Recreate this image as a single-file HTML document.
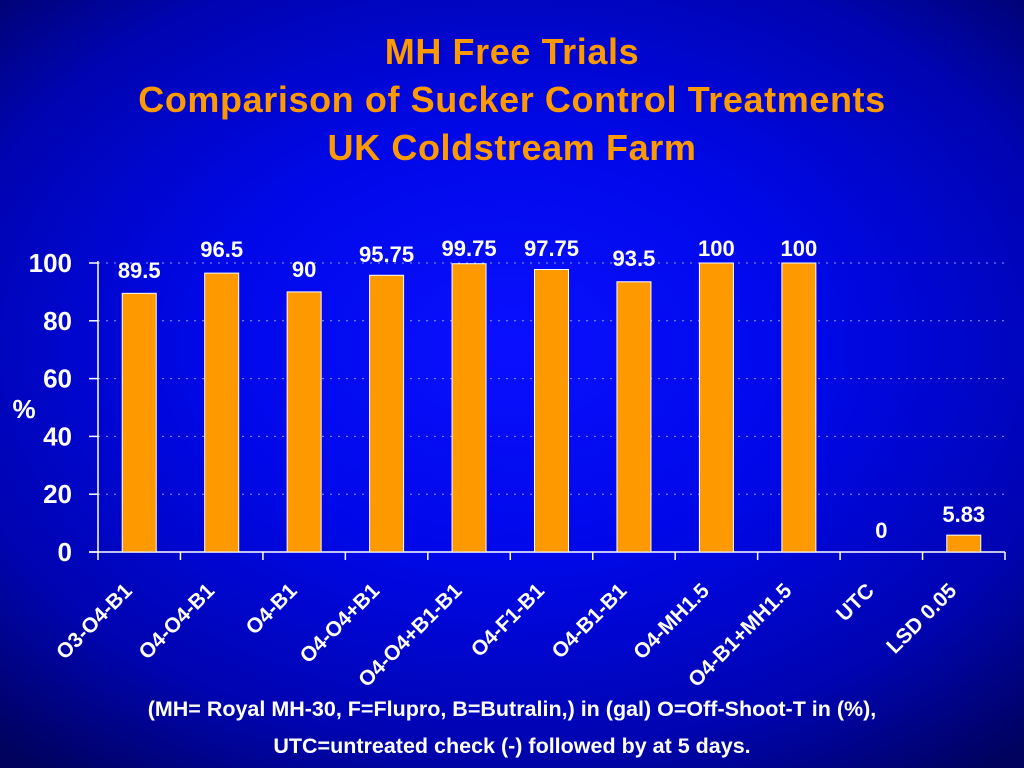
<!DOCTYPE html>
<html><head><meta charset="utf-8"><style>
html,body{margin:0;padding:0;width:1024px;height:768px;overflow:hidden}
body{background:radial-gradient(ellipse 75% 70% at 50% 45%,#0a10ff 0%,#0008e8 40%,#0004b0 75%,#00025e 100%);font-family:"Liberation Sans",Arial,sans-serif;font-weight:bold}
.t{position:absolute;left:0;width:1024px;text-align:center;color:#ff9900;font-size:36px;line-height:48px;letter-spacing:0.6px}
.f{position:absolute;left:0;width:1024px;text-align:center;color:#fff;font-size:21.5px}
</style></head><body>
<div class="t" style="top:28px">MH Free Trials<br>Comparison of Sucker Control Treatments<br>UK Coldstream Farm</div>
<svg id="c" width="1024" height="768" style="position:absolute;left:0;top:0"></svg>
<div class="f" style="top:697px">(MH= Royal MH-30, F=Flupro, B=Butralin,) in (gal) O=Off-Shoot-T in (%),</div>
<div class="f" style="top:734px">UTC=untreated check (-) followed by at 5 days.</div>
<script>
const categories=["O3-O4-B1","O4-O4-B1","O4-B1","O4-O4+B1","O4-O4+B1-B1","O4-F1-B1","O4-B1-B1","O4-MH1.5","O4-B1+MH1.5","UTC","LSD 0.05"];
const values=[89.5,96.5,90,95.75,99.75,97.75,93.5,100,100,0,5.83];
const valueLabels=["89.5","96.5","90","95.75","99.75","97.75","93.5","100","100","0","5.83"];
const yTicks=[0,20,40,60,80,100];
const svg=document.getElementById('c');const NS="http://www.w3.org/2000/svg";
const x0=98,x1=1005,y0=552,y100=263;
const bw=(x1-x0)/categories.length;
const Y=v=>y0-(v/100)*(y0-y100);
const X=i=>x0+bw*(i+0.5);
function mk(t,a,p){const e=document.createElementNS(NS,t);for(const k in a)e.setAttribute(k,a[k]);(p||svg).appendChild(e);return e;}
yTicks.forEach(v=>{
 if(v>0){const g=mk('line',{x1:x0,x2:x1,y1:Y(v),y2:Y(v),stroke:'#8a9cff','stroke-width':1,'stroke-dasharray':'2,6'});
 }
 const tk=mk('line',{x1:x0-9,x2:x0,y1:Y(v),y2:Y(v),stroke:'#fff','stroke-width':1.5});
 
 const t=mk('text',{x:x0-26,y:Y(v)+9,fill:'#fff','font-size':26,'font-weight':'bold','text-anchor':'end'});t.textContent=v;
 
});
const ya=mk('line',{x1:x0,x2:x0,y1:Y(100)-2,y2:y0,stroke:'#fff','stroke-width':1.5});

const xa=mk('line',{x1:x0-9,x2:x1,y1:y0,y2:y0,stroke:'#fff','stroke-width':1.5});

for(let i=0;i<=categories.length;i++){const l=mk('line',{x1:x0+bw*i,x2:x0+bw*i,y1:y0,y2:y0+8,stroke:'#fff','stroke-width':1.5});
 }
const yt=mk('text',{x:24,y:418,fill:'#fff','font-size':26,'font-weight':'bold','text-anchor':'middle'});yt.textContent='%';

categories.forEach((c,i)=>{
 const v=values[i];
 if(v>0){const r=mk('rect',{x:X(i)-17,y:Y(v),width:34,height:y0-Y(v),fill:'#ff9900',stroke:'#fff','stroke-width':1});
 }
 const vt=mk('text',{x:X(i),y:(i===9?Y(0)-14:(i===10?Y(v)-13:[278,257,277,262,256,256,266,256,256][i])),fill:'#fff','font-size':22,'font-weight':'bold','text-anchor':'middle'});
 vt.textContent=valueLabels[i];
 
 const lt=mk('text',{x:0,y:0,fill:'#fff','font-size':21,'font-weight':'bold','text-anchor':'end',transform:`translate(${X(i)-6},${y0+40}) rotate(-45)`});
 lt.textContent=c;
 
});
</script>
</body></html>
